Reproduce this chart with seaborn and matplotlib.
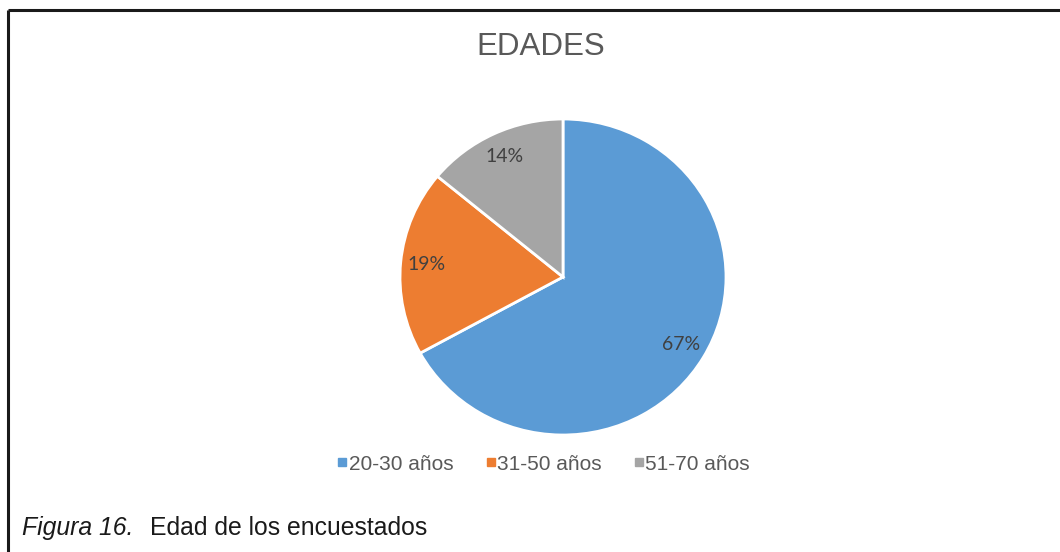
import matplotlib
matplotlib.use("Agg")
import matplotlib.pyplot as plt
from matplotlib.lines import Line2D
import seaborn as sns

categories = ["20-30 años", "31-50 años", "51-70 años"]
values = [67, 19, 14]
colors = ["#5B9BD5", "#ED7D31", "#A5A5A5"]
title = "EDADES"
caption_italic = "Figura 16."
caption_text = "Edad de los encuestados"

sns.set_theme(style="white")
plt.rcParams['font.family'] = ['Liberation Sans', 'DejaVu Sans']

W, H = 1060, 552
fig = plt.figure(figsize=(W / 100, H / 100), dpi=100)
fig.patch.set_facecolor("white")

cx, cy, rx, ry = 563, 277, 163, 158
ax = fig.add_axes([(cx - rx) / W, (H - cy - ry) / H, 2 * rx / W, 2 * ry / H])
wedges, texts, autotexts = ax.pie(
    values, colors=colors, startangle=90, counterclock=False,
    autopct=lambda p: f"{p:.0f}%", pctdistance=0.84,
    wedgeprops=dict(edgecolor="white", linewidth=2),
    textprops=dict(color="#404040", fontsize=14, family=['Lato', 'DejaVu Sans']),
)
ax.set_aspect("auto")
ax.set_xlim(-1, 1)
ax.set_ylim(-1, 1)
ax.axis("off")

fig.text(541 / W, 1 - 47 / H, title, ha="center", va="center",
         fontsize=22.5, color="#595959")

handles = [Line2D([0], [0], marker="s", linestyle="none", markersize=6,
                  markerfacecolor=c, markeredgecolor=c) for c in colors]
fig.legend(handles, categories, loc="center", bbox_to_anchor=(542 / W, 1 - 464 / H),
           ncol=3, frameon=False, fontsize=15, labelcolor="#595959",
           handletextpad=-0.1, columnspacing=1.4, handlelength=0.8)

t1 = fig.text(22 / W, 1 - 528 / H, caption_italic, ha="left", va="center",
              fontsize=17.8, style="italic", color="#1a1a1a")
fig.canvas.draw()
bb = t1.get_window_extent()
fig.text((bb.x1 + 17) / W, 1 - 528 / H, caption_text, ha="left", va="center",
         fontsize=17.8, color="#1a1a1a")

# border lines
fig.add_artist(Line2D([8 / W, 1.0], [1 - 10 / H, 1 - 10 / H], color="#1a1a1a",
                      linewidth=2.2, transform=fig.transFigure, solid_capstyle="butt"))
fig.add_artist(Line2D([8 / W, 8 / W], [1 - 10 / H, 0.0], color="#1a1a1a",
                      linewidth=2.2, transform=fig.transFigure, solid_capstyle="butt"))

fig.savefig("out.png", dpi=100)
